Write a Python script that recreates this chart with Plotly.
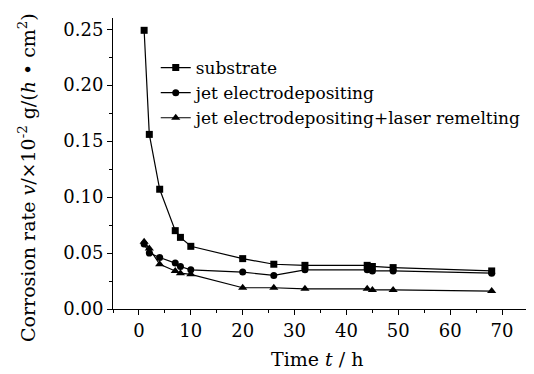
import plotly.graph_objects as go

time_h = [1, 2, 4, 7, 8, 10, 20, 26, 32, 44, 45, 49, 68]
substrate = [0.249, 0.156, 0.107, 0.070, 0.064, 0.056, 0.045, 0.040, 0.039, 0.039, 0.038, 0.037, 0.034]
jet = [0.058, 0.050, 0.046, 0.041, 0.038, 0.035, 0.033, 0.030, 0.035, 0.035, 0.034, 0.034, 0.032]
jet_laser = [0.060, 0.054, 0.040, 0.034, 0.032, 0.031, 0.019, 0.019, 0.018, 0.018, 0.017, 0.017, 0.016]

series = [
    ("substrate", substrate, "square", 7),
    ("jet electrodepositing", jet, "circle", 7),
    ("jet electrodepositing+laser remelting", jet_laser, "triangle-up", 8),
]

FONT = "DejaVu Serif, Liberation Serif, serif"

# page is rendered with an 8px body margin, so the figure is sized to fit
OFF = 8
W, H = 534 - OFF, 374 - OFF
L, R, T, B = 113 - OFF, 6, 18 - OFF, 65
pw, ph = W - L - R, H - T - B

fig = go.Figure()
for name, vals, sym, sz in series:
    fig.add_trace(go.Scatter(
        x=time_h, y=vals, name=name, mode="lines+markers",
        line=dict(color="black", width=1.2),
        marker=dict(symbol=sym, size=sz, color="black"),
    ))

axis_common = dict(
    showline=True, linecolor="black", linewidth=1,
    ticks="outside", ticklen=5, tickcolor="black", tickwidth=1,
    showgrid=False, zeroline=False, mirror=False, automargin=False,
    tickfont=dict(family=FONT, size=18, color="black"),
    minor=dict(ticks="outside", ticklen=3, tickcolor="black", tickwidth=1),
)

fig.update_xaxes(
    range=[-5, 75], tickvals=[0, 10, 20, 30, 40, 50, 60, 70],
    minor_dtick=5, minor_tick0=0,
    **axis_common,
)
fig.update_yaxes(
    range=[0, 0.26], tickvals=[0, 0.05, 0.10, 0.15, 0.20, 0.25],
    ticktext=["0.00", "0.05", "0.10", "0.15", "0.20", "0.25"],
    minor_dtick=0.025, minor_tick0=0,
    **axis_common,
)

def px_x(p):
    return (p - OFF - L) / pw

def px_y(p):
    return (H - B - (p - OFF)) / ph

fig.add_annotation(
    text="Time <i>t</i> / h", xref="paper", yref="paper",
    x=px_x(317), y=px_y(359), showarrow=False,
    xanchor="center", yanchor="middle",
    font=dict(family=FONT, size=19, color="black"),
)
fig.add_annotation(
    text="Corrosion rate <i>v</i>/×10<sup>-2</sup> g/(<i>h</i> • cm<sup>2</sup>)",
    xref="paper", yref="paper",
    x=px_x(27), y=px_y(178), showarrow=False, textangle=-90,
    xanchor="center", yanchor="middle",
    font=dict(family=FONT, size=19, color="black"),
)

fig.update_layout(
    width=W, height=H,
    margin=dict(l=L, r=R, t=T, b=B),
    paper_bgcolor="white", plot_bgcolor="white",
    showlegend=True,
    legend=dict(
        x=0.103, y=0.89, xanchor="left", yanchor="top",
        bgcolor="rgba(0,0,0,0)",
        font=dict(family=FONT, size=17, color="black"),
        itemwidth=30, tracegroupgap=0,
    ),
)

fig.write_html("out.html")
